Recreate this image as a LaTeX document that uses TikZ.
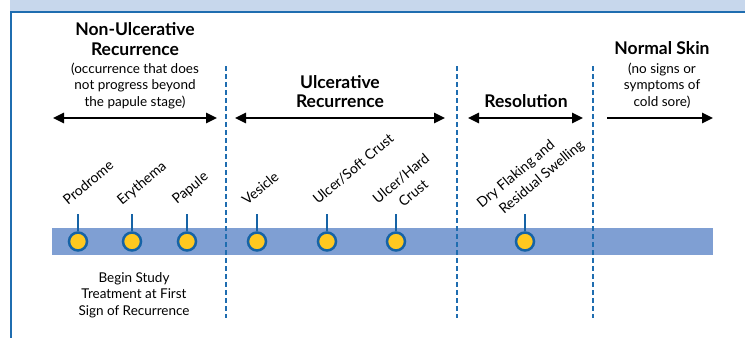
\documentclass[tikz,border=0pt]{standalone}
\usepackage{fontspec}
\setmainfont{Lato}
\usetikzlibrary{arrows.meta}
\definecolor{band}{HTML}{C7D7EC}
\definecolor{frameblue}{HTML}{1F6DB0}
\definecolor{barblue}{HTML}{7F9FD3}
\definecolor{dotfill}{HTML}{FFC820}
\definecolor{dotline}{HTML}{1663A6}
\begin{document}
\begin{tikzpicture}[x=1pt,y=-1pt,
  head/.style={font=\bfseries\fontsize{17.5}{20}\selectfont, align=center, inner sep=0, anchor=base},
  sub/.style={font=\fontsize{13.5}{16.5}\selectfont, align=center, inner sep=0, anchor=base},
  span/.style={line width=2.5pt, {Triangle[length=11pt,width=10pt]}-{Triangle[length=11pt,width=10pt]}},
  rspan/.style={line width=2.5pt, -{Triangle[length=11pt,width=10pt]}},
  divider/.style={frameblue, line width=2.2pt, dash pattern=on 5pt off 3pt},
  stem/.style={dotline, line width=2pt},
  dot/.style={circle, fill=dotfill, draw=dotline, line width=2.5pt, minimum size=18pt, inner sep=0},
  lab/.style={font=\fontsize{14}{19}\selectfont, rotate=40, anchor=base west, inner sep=0, align=left}]
\useasboundingbox (0,0) rectangle (745,338);
\fill[band] (10,0) rectangle (745,11);
\draw[frameblue, line width=2pt] (745,12) -- (11,12) -- (11,338);
% bar
\fill[barblue] (52,228) rectangle (713,255);
% dividers
\foreach \x/\n in {226/a,457/b,593/c} {
  \coordinate (t\n) at (\x,66);
  \coordinate (b\n) at (\x,318);
  \draw[divider] (t\n) -- (b\n);
}
% headings (multi-line nodes: base = last line)
\node[head] (h1a) at (135,35) {Non-Ulcerative};
\node[head] (h1b) at (135,55) {Recurrence};
\node[sub] (s1) at (135,106) {(occurrence that does\\not progress beyond\\the papule stage)};
\node[head] (h2a) at (340,88) {Ulcerative};
\node[head] (h2b) at (340,107) {Recurrence};
\node[head] (h3) at (526,107) {Resolution};
\node[head] (h4) at (662,54) {Normal Skin};
\node[sub] (s4) at (662,106) {(no signs or\\symptoms of\\cold sore)};
\node[sub] (begin) at (134,315) {Begin Study\\Treatment at First\\Sign of Recurrence};
% span arrows
\coordinate (a1) at (53,118); \coordinate (a2) at (217,118);
\coordinate (b1) at (235,118); \coordinate (b2) at (445,118);
\coordinate (c1) at (468,118); \coordinate (c2) at (583,118);
\coordinate (e1) at (607,118); \coordinate (e2) at (713,118);
\draw[span] (a1) -- (a2);
\draw[span] (b1) -- (b2);
\draw[span] (c1) -- (c2);
\draw[rspan] (e1) -- (e2);
% stages
\foreach \x/\n in {78/1,132/2,187/3,257/4,327/5,396/6,525/7} {
  \node[dot] (d\n) at (\x,241.5) {};
  \coordinate (k\n) at (\x,214);
  \draw[stem] (k\n) -- (d\n.north);
}
\node[lab] (l1) at (68,206) {Prodrome};
\node[lab] (l2) at (122,206) {Erythema};
\node[lab] (l3) at (177,205) {Papule};
\node[lab] (l4) at (247,206) {Vesicle};
\node[lab] (l5) at (318,205) {Ulcer/Soft Crust};
\node[lab, align=center] (l6) at (390,219) {Ulcer/Hard\\Crust};
\node[lab] (l7) at (494,223) {Dry Flaking and\\\hspace*{13pt}Residual Swelling};
\end{tikzpicture}
\end{document}
